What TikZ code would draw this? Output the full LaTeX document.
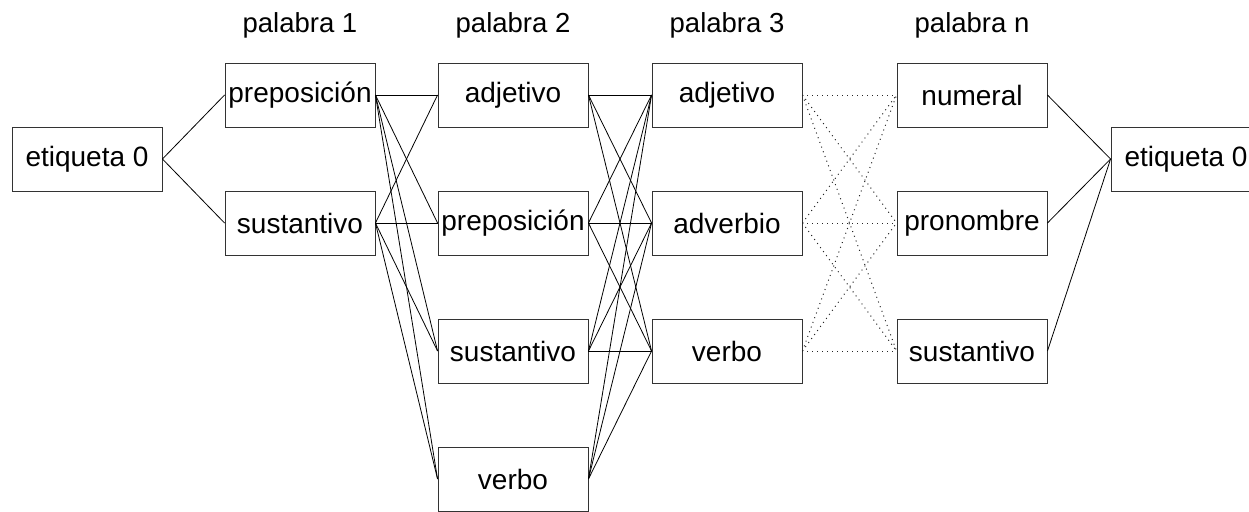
\documentclass[tikz,border=0pt]{standalone}
\usepackage{fontspec}
\setmainfont{Liberation Sans}
\begin{document}
\begin{tikzpicture}[x=1pt,y=-1pt,
  tag/.style={draw=black!80, line width=0.9pt, rectangle, minimum width=150pt, minimum height=64pt, inner sep=0pt, font=\fontsize{28}{32}\selectfont},
  hdr/.style={anchor=base, font=\fontsize{27.5}{32}\selectfont},
  link/.style={line width=0.8pt, black},
  dlink/.style={line width=1pt, black!85, dash pattern=on 1pt off 4pt}]
\clip (0,0) rectangle (1249,511);
\useasboundingbox (0,0) rectangle (1249,511);
% headers
\node[hdr] (h1) at (300,33) {palabra 1};
\node[hdr] (h2) at (513,33) {palabra 2};
\node[hdr] (h3) at (727,33) {palabra 3};
\node[hdr] (hn) at (972,33) {palabra n};
% nodes
\node[tag] (e0) at (87,159) {etiqueta 0};
\node[tag] (a1) at (300,95) {preposición};
\node[tag] (a2) at (300,223) {sustantivo};
\node[tag] (b1) at (513,95) {adjetivo};
\node[tag] (b2) at (513,223) {preposición};
\node[tag] (b3) at (513,351) {sustantivo};
\node[tag] (b4) at (513,479) {verbo};
\node[tag] (c1) at (727,95) {adjetivo};
\node[tag] (c2) at (727,223) {adverbio};
\node[tag] (c3) at (727,351) {verbo};
\node[tag] (n1) at (972,95) {numeral};
\node[tag] (n2) at (972,223) {pronombre};
\node[tag] (n3) at (972,351) {sustantivo};
\node[tag] (ef) at (1186,159) {etiqueta 0};
% connectors
\foreach \t in {a1,a2} \draw[link] (e0.east) -- (\t.west);
\foreach \s in {a1,a2} \foreach \t in {b1,b2,b3,b4} \draw[link] (\s.east) -- (\t.west);
\foreach \s in {b1,b2,b3,b4} \foreach \t in {c1,c2,c3} \draw[link] (\s.east) -- (\t.west);
\foreach \s in {c1,c2,c3} \foreach \t in {n1,n2,n3} \draw[dlink] (\s.east) -- (\t.west);
\foreach \s in {n1,n2,n3} \draw[link] (\s.east) -- (ef.west);
\end{tikzpicture}
\end{document}
